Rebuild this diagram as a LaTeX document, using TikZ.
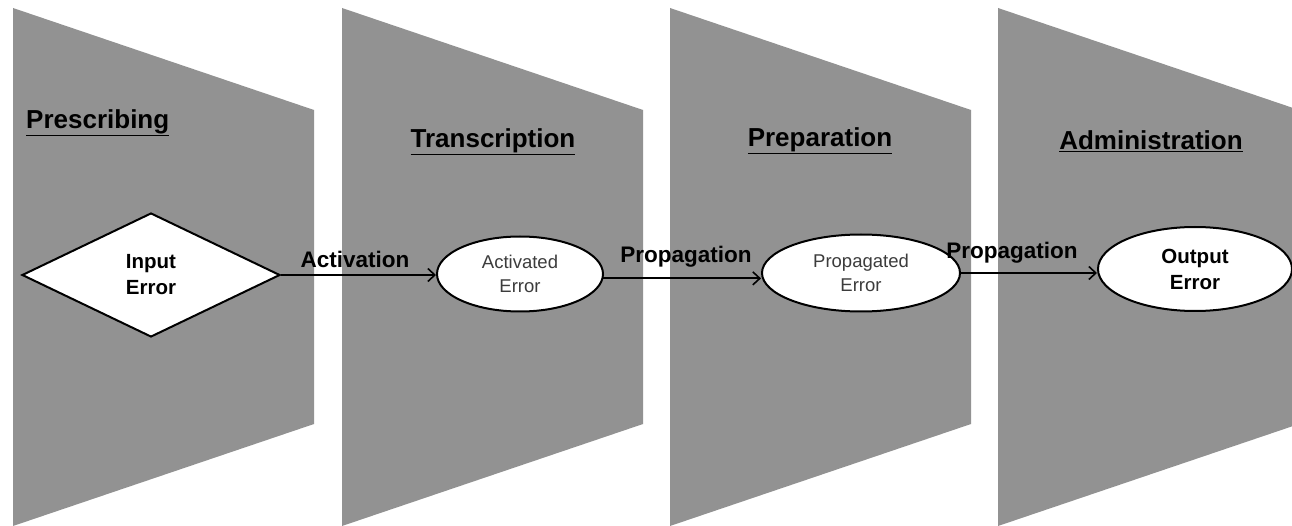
\documentclass[tikz,border=0pt]{standalone}
\usepackage{fontspec}
\setmainfont{Liberation Sans}
\usetikzlibrary{shapes.geometric,arrows.meta}
\definecolor{stagegray}{RGB}{146,146,146}
\definecolor{softtext}{RGB}{60,60,60}
\tikzset{
  stage/.style={fill=stagegray,draw=none},
  heading/.style={inner sep=0pt,font=\fontsize{26}{30}\selectfont\bfseries},
  lbl/.style={inner sep=0pt,font=\fontsize{22.5}{26}\selectfont\bfseries},
  boldnode/.style={draw=black,fill=white,line width=2pt,inner sep=0pt,align=center,
    font=\fontsize{20.5}{26}\selectfont\bfseries},
  plainnode/.style={draw=black,fill=white,line width=2pt,inner sep=0pt,align=center,
    text=softtext,font=\fontsize{18.5}{24}\selectfont},
  arr/.style={line width=2pt,-{Straight Barb[length=7pt,width=13pt,line width=1.6pt]}}
}
\begin{document}
\begin{tikzpicture}[x=1pt,y=-1pt]
\useasboundingbox (0,0) rectangle (1292,526);
\clip (0,0) rectangle (1292,526);
\fill[white] (0,0) rectangle (1292,526);
% stages
\foreach \L in {13,342,670,998}{
  \fill[stage] (\L,8) -- (\L+301,110) -- (\L+301,424) -- (\L,526) -- cycle;
}
% headings
\node[heading,anchor=west] (h1) at (26,123) {\underline{Prescribing}};
\node[heading] (h2) at (493,142) {\underline{Transcription}};
\node[heading] (h3) at (820,141) {\underline{Preparation}};
\node[heading] (h4) at (1151,141) {\underline{Administration}};
% nodes
\node[boldnode,diamond,aspect=2.08,minimum width=258pt,minimum height=124pt] (d) at (151,275) {Input\\Error};
\node[plainnode,ellipse,minimum width=166pt,minimum height=75pt] (e1) at (520,274) {Activated\\Error};
\node[plainnode,ellipse,minimum width=198pt,minimum height=77pt] (e2) at (861,273) {Propagated\\Error};
\node[boldnode,ellipse,minimum width=194pt,minimum height=84pt] (e3) at (1195,269) {Output\\Error};
% connectors
\draw[arr] (d.east) -- (d.east -| e1.west);
\draw[arr] (e1.-3) -- (e1.-3 -| e2.west);
\draw[arr] (e2.east) -- (e2.east -| e3.west);
% connector labels
\node[lbl] (l1) at (355,259) {Activation};
\node[lbl] (l2) at (686,257) {Propagation};
\node[lbl] (l3) at (1012,253) {Propagation};
\end{tikzpicture}
\end{document}
